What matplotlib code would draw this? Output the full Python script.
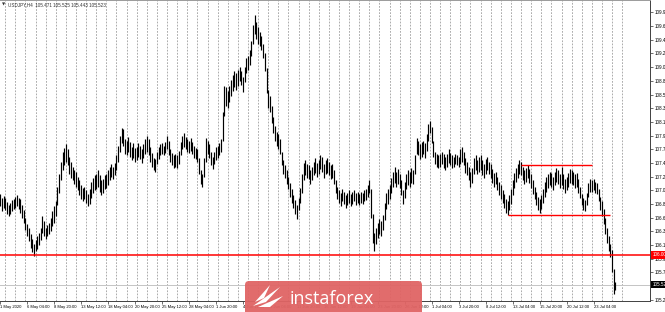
import matplotlib
matplotlib.use("Agg")
import matplotlib.pyplot as plt
from matplotlib.patches import FancyBboxPatch, Polygon

title = "USDJPY,H4  105.471 105.525 105.443 105.523"

# H4 bars, index 0 = 1 May 2020 00:00 (6 bars per day), first visible bar = 3
first_bar = 3
bar_low = [
    106.78, 106.70, 106.76,                                   # 1 May
    106.72, 106.66, 106.62, 106.66, 106.70, 106.74,           # 4 May
    106.76, 106.78, 106.74, 106.68, 106.60, 106.52,
    106.40, 106.30, 106.22, 106.12, 106.04, 105.99,
    106.06, 106.10, 106.16, 106.24, 106.36, 106.30,
    106.26, 106.30, 106.34, 106.38, 106.46, 106.52,
    106.62, 106.80, 107.00, 107.20, 107.36, 107.44,           # 11 May
    107.50, 107.44, 107.30, 107.24, 107.20, 107.14,
    107.10, 107.04, 106.96, 106.90, 106.86, 106.90,
    106.84, 106.78, 106.82, 106.92, 107.00, 107.04,
    107.06, 107.10, 107.02, 106.96, 107.00, 107.06,
    107.08, 107.12, 107.20, 107.26, 107.22, 107.28,           # 18 May
    107.36, 107.50, 107.66, 107.80, 107.76, 107.62,
    107.60, 107.66, 107.58, 107.52, 107.56, 107.50,
    107.52, 107.58, 107.54, 107.48, 107.56, 107.62,
    107.66, 107.60, 107.50, 107.42, 107.36, 107.34,
    107.46, 107.54, 107.60, 107.62, 107.60, 107.64,           # 25 May
    107.70, 107.60, 107.50, 107.44, 107.40, 107.42,
    107.40, 107.46, 107.60, 107.70, 107.74, 107.70,
    107.66, 107.64, 107.68, 107.62, 107.56, 107.54,
    107.50, 107.30, 107.14, 107.10, 107.26, 107.50,
    107.62, 107.56, 107.44, 107.38, 107.46, 107.52,           # 1 Jun
    107.56, 107.60, 107.66, 107.84, 108.24, 108.40,
    108.36, 108.46, 108.56, 108.64, 108.70, 108.66,
    108.72, 108.80, 108.74, 108.62, 108.78, 108.92,
    108.98, 109.06, 109.20, 109.40, 109.56, 109.48,
    109.40, 109.36, 109.30, 109.16, 108.96, 108.60,           # 8 Jun
    108.36, 108.30, 108.12, 107.96, 107.84, 107.76,
    107.70, 107.62, 107.44, 107.30, 107.24, 107.14,
    107.06, 106.94, 106.84, 106.76, 106.66, 106.58,
    106.72, 106.84, 107.00, 107.20, 107.28, 107.24,
    107.22, 107.14, 107.20, 107.28, 107.32, 107.26,           # 15 Jun
    107.30, 107.38, 107.34, 107.24, 107.30, 107.32,
    107.28, 107.22, 107.24, 107.14, 107.00, 106.90,
    106.84, 106.78, 106.86, 106.82, 106.76, 106.80,
    106.84, 106.78, 106.82, 106.86, 106.80, 106.84,
    106.80, 106.84, 106.82, 106.86, 106.88, 106.94,           # 22 Jun
    107.00, 106.60, 106.20, 106.07, 106.18, 106.28,
    106.34, 106.30, 106.40, 106.56, 106.74, 106.82,
    106.90, 107.00, 107.10, 107.16, 107.10, 107.14,
    107.08, 106.96, 106.82, 106.92, 107.06, 107.12,
    107.10, 107.16, 107.14, 107.30, 107.62, 107.60,           # 29 Jun
    107.54, 107.58, 107.62, 107.56, 107.68, 107.84,
    107.96, 107.80, 107.58, 107.46, 107.42, 107.40,
    107.42, 107.46, 107.40, 107.36, 107.42, 107.48,
    107.44, 107.40, 107.42, 107.46, 107.44, 107.42,
    107.46, 107.50, 107.44, 107.32, 107.28, 107.20,           # 6 Jul
    107.10, 107.16, 107.30, 107.36, 107.30, 107.34,
    107.36, 107.28, 107.24, 107.30, 107.36, 107.30,
    107.24, 107.16, 107.10, 107.14, 107.04, 106.96,
    106.90, 106.84, 106.76, 106.68, 106.64, 106.72,
    106.82, 106.96, 107.08, 107.18, 107.24, 107.30,           # 13 Jul
    107.28, 107.20, 107.14, 107.18, 107.24, 107.16,
    107.08, 106.98, 106.90, 106.80, 106.72, 106.68,
    106.74, 106.84, 106.94, 107.02, 107.08, 107.12,
    107.10, 107.04, 107.12, 107.18, 107.14, 107.08,
    107.12, 107.06, 107.00, 107.04, 107.10, 107.16,           # 20 Jul
    107.14, 107.12, 107.08, 107.10, 107.00, 106.92,
    106.80, 106.72, 106.70, 106.80, 106.94, 107.02,
    107.02, 107.04, 107.00, 106.98, 106.86, 106.72,
    106.62, 106.50, 106.34, 106.20, 106.06, 105.96,
    105.72, 105.38, 105.44,                                   # 27 Jul
]
bar_high = [
    106.98, 106.92, 106.95,
    106.92, 106.85, 106.80, 106.84, 106.88, 106.90,
    106.94, 106.96, 106.92, 106.90, 106.80, 106.72,
    106.60, 106.50, 106.44, 106.34, 106.26, 106.18,
    106.24, 106.30, 106.36, 106.44, 106.62, 106.54,
    106.44, 106.48, 106.52, 106.60, 106.70, 106.78,
    106.86, 107.10, 107.30, 107.50, 107.66, 107.72,
    107.78, 107.70, 107.58, 107.50, 107.42, 107.36,
    107.34, 107.26, 107.20, 107.12, 107.08, 107.10,
    107.04, 106.98, 107.06, 107.18, 107.24, 107.28,
    107.30, 107.36, 107.28, 107.20, 107.22, 107.28,
    107.30, 107.36, 107.42, 107.46, 107.42, 107.48,
    107.60, 107.76, 107.92, 108.04, 108.02, 107.86,
    107.84, 107.90, 107.82, 107.74, 107.80, 107.72,
    107.74, 107.80, 107.76, 107.70, 107.78, 107.86,
    107.92, 107.86, 107.74, 107.64, 107.56, 107.54,
    107.66, 107.74, 107.78, 107.80, 107.76, 107.82,
    107.92, 107.84, 107.70, 107.64, 107.60, 107.62,
    107.60, 107.68, 107.82, 107.92, 107.96, 107.90,
    107.86, 107.84, 107.88, 107.82, 107.76, 107.72,
    107.70, 107.56, 107.36, 107.30, 107.56, 107.88,
    107.84, 107.78, 107.66, 107.58, 107.66, 107.74,
    107.76, 107.80, 107.86, 108.30, 108.72, 108.70,
    108.64, 108.72, 108.82, 108.90, 108.96, 108.92,
    108.98, 109.02, 108.96, 108.86, 109.02, 109.16,
    109.20, 109.30, 109.44, 109.70, 109.86, 109.74,
    109.66, 109.58, 109.52, 109.40, 109.24, 109.00,
    108.66, 108.56, 108.40, 108.22, 108.08, 107.98,
    107.94, 107.86, 107.66, 107.52, 107.44, 107.36,
    107.26, 107.16, 107.06, 106.96, 106.88, 106.80,
    106.92, 107.08, 107.30, 107.48, 107.52, 107.46,
    107.44, 107.36, 107.42, 107.50, 107.56, 107.48,
    107.52, 107.60, 107.58, 107.46, 107.52, 107.56,
    107.50, 107.44, 107.46, 107.36, 107.20, 107.10,
    107.04, 107.00, 107.06, 107.02, 106.96, 107.00,
    107.04, 106.98, 107.02, 107.04, 107.00, 107.02,
    106.98, 107.02, 107.00, 107.04, 107.06, 107.12,
    107.20, 107.06, 106.66, 106.36, 106.44, 106.52,
    106.58, 106.54, 106.64, 106.84, 107.00, 107.06,
    107.12, 107.24, 107.34, 107.42, 107.34, 107.38,
    107.30, 107.20, 107.04, 107.18, 107.30, 107.36,
    107.34, 107.40, 107.36, 107.60, 107.88, 107.84,
    107.78, 107.82, 107.84, 107.80, 107.94, 108.10,
    108.16, 108.06, 107.84, 107.66, 107.62, 107.60,
    107.62, 107.66, 107.62, 107.58, 107.62, 107.70,
    107.64, 107.60, 107.58, 107.62, 107.60, 107.58,
    107.70, 107.74, 107.66, 107.56, 107.50, 107.42,
    107.34, 107.40, 107.56, 107.60, 107.52, 107.58,
    107.60, 107.52, 107.46, 107.54, 107.58, 107.50,
    107.46, 107.38, 107.32, 107.34, 107.26, 107.18,
    107.12, 107.04, 106.98, 106.90, 106.86, 106.96,
    107.06, 107.20, 107.32, 107.40, 107.46, 107.52,
    107.50, 107.42, 107.36, 107.40, 107.44, 107.38,
    107.30, 107.20, 107.10, 107.02, 106.94, 106.90,
    106.96, 107.06, 107.18, 107.26, 107.30, 107.34,
    107.32, 107.26, 107.34, 107.40, 107.36, 107.30,
    107.42, 107.30, 107.22, 107.26, 107.32, 107.38,
    107.36, 107.34, 107.30, 107.32, 107.22, 107.10,
    106.98, 106.92, 106.88, 107.00, 107.16, 107.22,
    107.20, 107.22, 107.18, 107.16, 107.06, 106.94,
    106.86, 106.74, 106.60, 106.44, 106.30, 106.18,
    106.08, 105.78, 105.56,
]
assert len(bar_low) == len(bar_high)
bars = list(range(first_bar, first_bar + len(bar_low)))

date_bars = [3, 19, 35, 51, 67, 83, 99, 115, 131, 147, 163, 179,
             195, 211, 227, 243, 259, 275, 291, 307, 323, 339, 355]
date_labels = ["1 May 2020", "6 May 04:00", "8 May 20:00", "13 May 12:00",
               "18 May 04:00", "20 May 20:00", "25 May 12:00", "28 May 04:00",
               "1 Jun 20:00", "4 Jun 12:00", "9 Jun 04:00", "11 Jun 20:00",
               "16 Jun 12:00", "19 Jun 04:00", "23 Jun 20:00", "26 Jun 12:00",
               "1 Jul 04:00", "3 Jul 20:00", "8 Jul 12:00", "13 Jul 04:00",
               "15 Jul 20:00", "20 Jul 12:00", "23 Jul 04:00"]

# 105.50 sits under the last-price box, so it is not listed
price_ticks = [105.27, 105.72, 105.94, 106.16, 106.38, 106.60, 106.82,
               107.04, 107.26, 107.48, 107.70, 107.92, 108.14, 108.36, 108.58,
               108.80, 109.02, 109.24, 109.46, 109.68, 109.90]

support_level = 106.00
last_price = 105.52
range_top = 107.45
range_top_bars = (312, 354)
range_bottom = 106.65
range_bottom_bars = (304, 365)

fig = plt.figure(figsize=(6.65, 3.12), dpi=100)
fig.patch.set_facecolor("white")
ax = fig.add_axes([0, 11 / 312, 650 / 665, 301 / 312])

# day separators
for d in range(6, 373, 6):
    ax.axvline(d, color="#8a8a8a", lw=0.5, ls=(0, (2.5, 2)), zorder=0)

ax.axhline(last_price, color="#c4c4c4", lw=0.7, zorder=0.5)
ax.vlines(bars, bar_low, bar_high, color="black", lw=0.85, zorder=2)

ax.axhline(support_level, color="red", lw=1.1, zorder=3)
ax.hlines(range_top, range_top_bars[0], range_top_bars[1], color="red", lw=1.0, zorder=3)
ax.hlines(range_bottom, range_bottom_bars[0], range_bottom_bars[1], color="red", lw=1.0, zorder=3)

ax.set_xlim(2.9, 388.5)
ax.set_ylim(105.26, 110.10)

ax.yaxis.tick_right()
ax.set_yticks(price_ticks)
ax.set_yticklabels(["%.2f" % p for p in price_ticks])
ax.set_xticks(date_bars)
ax.set_xticklabels(date_labels)
for lbl in ax.get_xticklabels():
    lbl.set_horizontalalignment("left")
ax.tick_params(axis="y", length=2, width=0.5, pad=1.5, labelsize=3.3, color="#333333")
ax.tick_params(axis="x", length=2, width=0.5, pad=1.0, labelsize=3.0, color="#333333")
for lbl in ax.get_xticklabels() + ax.get_yticklabels():
    lbl.set_family("Liberation Sans")

ax.spines["left"].set_visible(False)
ax.spines["top"].set_color("#9a9a9a")
ax.spines["right"].set_color("#404040")
ax.spines["bottom"].set_color("#404040")
for s in ("top", "right", "bottom"):
    ax.spines[s].set_linewidth(0.7)

# price boxes on the scale
ax.text(1.004, support_level, "%.2f" % support_level, transform=ax.get_yaxis_transform(),
        ha="left", va="center", fontsize=3.3, color="white", family="Liberation Sans",
        bbox=dict(boxstyle="square,pad=0.25", fc="red", ec="none"), clip_on=False, zorder=5)
ax.text(1.004, last_price, "%.2f" % last_price, transform=ax.get_yaxis_transform(),
        ha="left", va="center", fontsize=3.3, color="white", family="Liberation Sans",
        bbox=dict(boxstyle="square,pad=0.25", fc="black", ec="none"), clip_on=False, zorder=5)

# header
fig.text(2 / 665, 1 - 5 / 312, "\u25bc", fontsize=3, va="center", color="#333333")
fig.text(8 / 665, 1 - 5 / 312, title, fontsize=3.3, va="center", color="#333333",
         family="Liberation Sans")

# watermark
tr = fig.dpi_scale_trans
logo = FancyBboxPatch((2.45, -0.06), 1.77, 0.37,
                      boxstyle="round,pad=0,rounding_size=0.04",
                      transform=tr, fc="#e06464", ec="none", alpha=0.95, zorder=10)
fig.add_artist(logo)
for pts in ([(2.53, 0.06), (2.80, 0.25), (2.66, 0.10)],
            [(2.58, 0.05), (2.83, 0.16), (2.70, 0.05)],
            [(2.55, 0.10), (2.70, 0.27), (2.64, 0.14)]):
    fig.add_artist(Polygon(pts, closed=True, transform=tr, fc="white", ec="none", zorder=11))
fig.text(2.90, 0.085, "instaforex", transform=tr, fontsize=13, color="white",
         family="Open Sans", va="baseline", zorder=12)

fig.savefig("out.png", dpi=100)
